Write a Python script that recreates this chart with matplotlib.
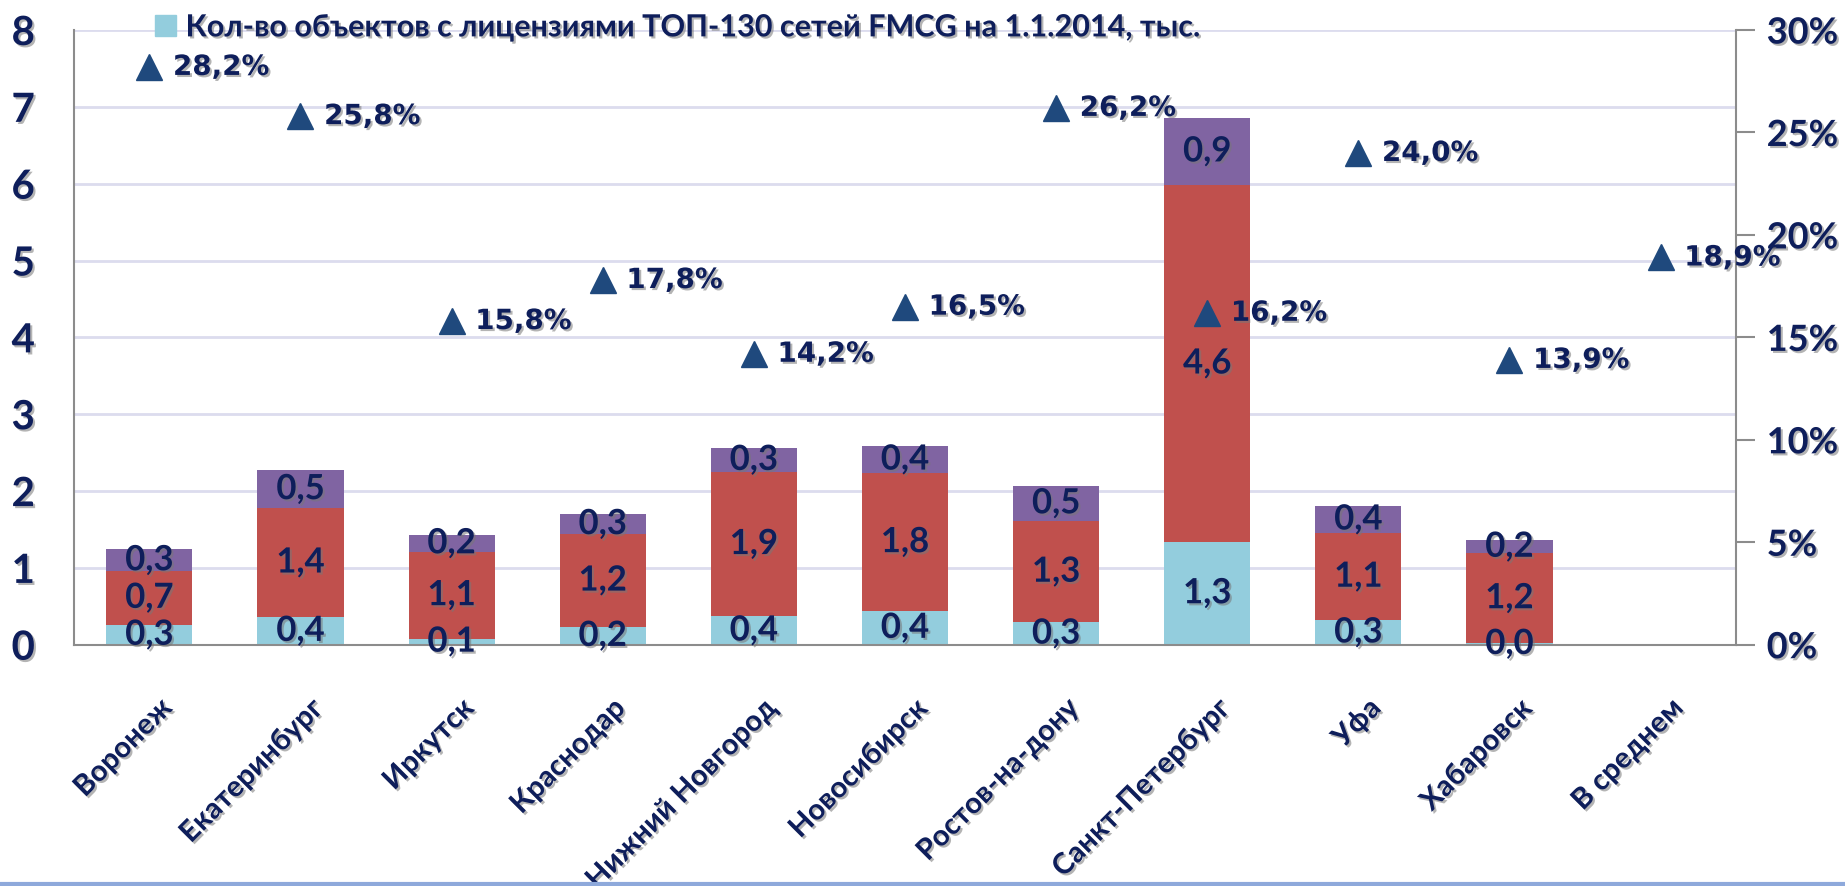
import matplotlib.pyplot as plt
import matplotlib.patheffects as pe
from matplotlib.patches import Patch
from matplotlib.lines import Line2D
import numpy as np

cities = ['Воронеж', 'Екатеринбург', 'Иркутск', 'Краснодар', 'Нижний Новгород',
          'Новосибирск', 'Ростов-на-дону', 'Санкт-Петербург', 'Уфа', 'Хабаровск',
          'В среднем']
licensed = [0.26, 0.36, 0.08, 0.23, 0.37, 0.44, 0.29, 1.34, 0.32, 0.02]
middle = [0.70, 1.42, 1.13, 1.21, 1.88, 1.79, 1.32, 4.64, 1.13, 1.17]
top = [0.28, 0.49, 0.22, 0.26, 0.31, 0.36, 0.46, 0.88, 0.36, 0.17]
share = [28.2, 25.8, 15.8, 17.8, 14.2, 16.5, 26.2, 16.2, 24.0, 13.9, 18.9]

legend_label = 'Кол-во объектов с лицензиями ТОП-130 сетей FMCG на 1.1.2014, тыс.'

navy = '#0E1E5B'
shadow = [pe.withSimplePatchShadow(offset=(1.5, -1.5), shadow_rgbFace='#777777', alpha=0.55)]

fig = plt.figure(figsize=(18.45, 8.87), dpi=100)
ax = fig.add_axes([0.040, 0.272, 0.901, 0.693])
ax2 = ax.twinx()

x = np.arange(len(licensed))
w = 0.57
b1 = ax.bar(x, licensed, w, color='#93CDDD', zorder=2)
b2 = ax.bar(x, middle, w, bottom=licensed, color='#C0504D', zorder=2)
b3 = ax.bar(x, top, w, bottom=np.array(licensed) + np.array(middle), color='#8064A2', zorder=2)

for bars in (b1, b2, b3):
    labels = [f'{v:.1f}'.replace('.', ',') for v in bars.datavalues]
    for t in ax.bar_label(bars, labels=labels, label_type='center'):
        t.set_fontsize(25)
        t.set_fontweight('bold')
        t.set_family('Lato')
        t.set_color(navy)
        t.set_path_effects(shadow)
        t.set_zorder(5)

ax.set_ylim(0, 8)
ax.set_xlim(-0.5, len(cities) - 0.5)
ax.set_yticks(range(0, 9))
ax.yaxis.grid(True, color='#DCDCEE', linewidth=2, zorder=0)
ax.set_axisbelow(True)
ax.tick_params(axis='y', length=0, pad=28)
ax.tick_params(axis='x', length=0, pad=36)
ax.set_xticks(np.arange(len(cities)) + 0.06)
ax.set_xticklabels(cities, rotation=45, ha='right', rotation_mode='anchor')
for lab in ax.get_yticklabels():
    lab.set(fontsize=29, fontweight='bold', family='Lato', color=navy, path_effects=shadow)
for lab in ax.get_xticklabels():
    lab.set(fontsize=21, fontweight='bold', family='Lato', color=navy, path_effects=shadow)

for side in ('top', 'right'):
    ax.spines[side].set_visible(False)
ax.spines['left'].set_color('#8C8C8C')
ax.spines['bottom'].set_color('#8C8C8C')
ax.spines['left'].set_linewidth(1.5)
ax.spines['bottom'].set_linewidth(1.5)

ax2.plot(np.arange(len(cities)), np.array(share) / 100, linestyle='none', marker='^',
         markersize=19, color='#1F497D', zorder=4)
for i, v in enumerate(share):
    ax2.annotate(f'{v:.1f}%'.replace('.', ','), (i, v / 100), xytext=(17, 0),
                 textcoords='offset points', va='center', ha='left', fontsize=20,
                 fontweight='bold', family='DejaVu Sans', color=navy, path_effects=shadow)
ax2.set_ylim(0, 0.30)
ax2.set_yticks(np.arange(0, 0.31, 0.05))
ax2.set_yticklabels([f'{int(round(v * 100))}%' for v in np.arange(0, 0.31, 0.05)])
for lab in ax2.get_yticklabels():
    lab.set(fontsize=26, fontweight='bold', family='Lato', color=navy, path_effects=shadow)
ax2.tick_params(axis='y', direction='out', length=14, width=1.5, color='#8C8C8C', pad=8)
for side in ('top', 'left', 'bottom'):
    ax2.spines[side].set_visible(False)
ax2.spines['right'].set_color('#8C8C8C')
ax2.spines['right'].set_linewidth(1.5)

leg = fig.legend([Patch(color='#93CDDD')], [legend_label], loc='center left',
                 bbox_to_anchor=(0.084, 0.968), frameon=False, borderpad=0,
                 borderaxespad=0, handlelength=0.7, handleheight=0.7, handletextpad=0.3,
                 prop={'family': 'Lato', 'weight': 'bold', 'size': 22})
for t in leg.get_texts():
    t.set_color(navy)
    t.set_path_effects(shadow)

fig.add_artist(Line2D([0, 1], [0.002, 0.002], color='#8EA9DB', linewidth=3, transform=fig.transFigure))

plt.savefig('out.png', dpi=100)
